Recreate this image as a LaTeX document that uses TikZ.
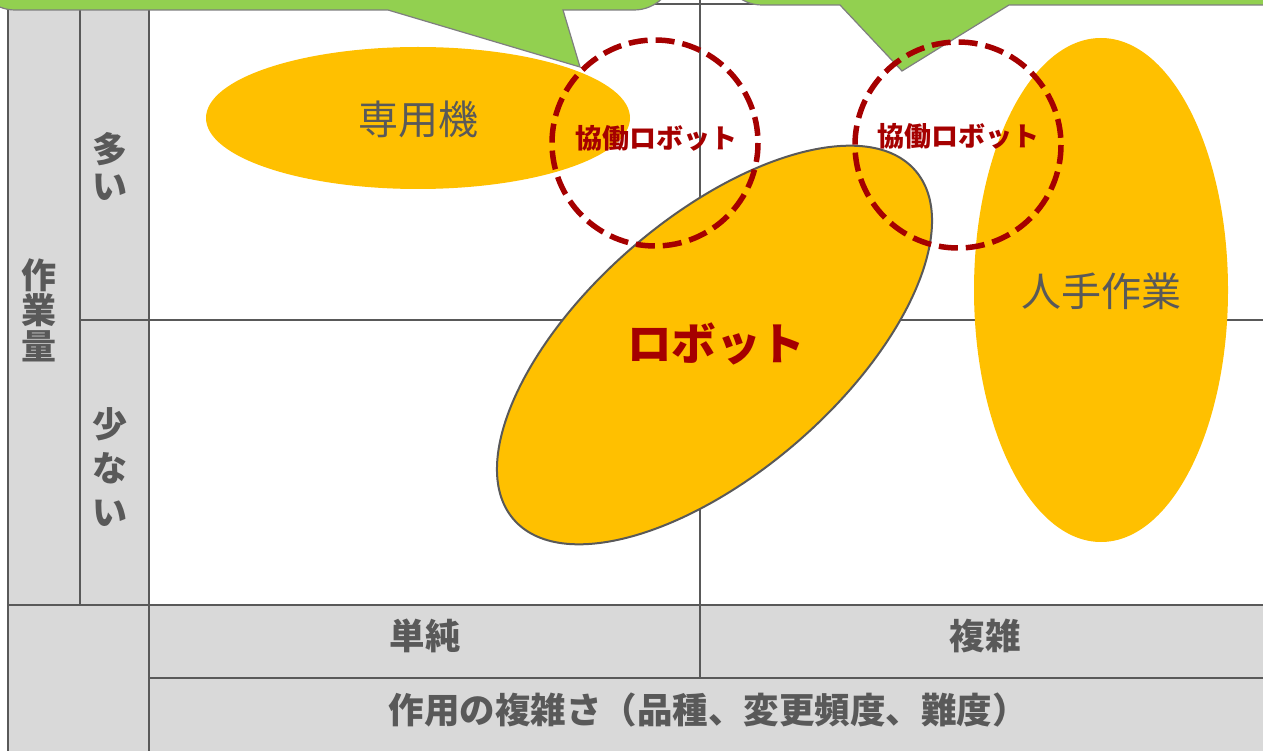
\documentclass[tikz,border=0pt]{standalone}
\usepackage{fontspec}
\newfontfamily\jp{Noto Sans CJK JP}
\definecolor{cellgray}{HTML}{D9D9D9}
\definecolor{linegray}{HTML}{595959}
\definecolor{textgray}{HTML}{595959}
\definecolor{blobyellow}{HTML}{FFC000}
\definecolor{coopred}{HTML}{A50000}
\definecolor{callgreen}{HTML}{92D050}
\definecolor{callborder}{HTML}{7F7F7F}
\begin{document}
\begin{tikzpicture}[x=1pt,y=-1pt,
  gridline/.style={draw=linegray, line width=2pt},
  cellfill/.style={fill=cellgray},
  blob/.style={fill=blobyellow},
  robotblob/.style={fill=blobyellow, draw=linegray, line width=2pt},
  coop/.style={draw=coopred, line width=5.5pt, dash pattern=on 19pt off 8pt},
  callout/.style={fill=callgreen, draw=callborder, line width=1.2pt},
  headlbl/.style={text=textgray, font=\jp\bfseries\fontsize{35.5}{35.5}\selectfont, inner sep=0pt},
  blobtxt/.style={text=textgray, font=\jp\fontsize{40}{40}\selectfont, inner sep=0pt},
  cooptxt/.style={text=coopred, font=\jp\bfseries\fontsize{27}{27}\selectfont, inner sep=0pt},
  robottxt/.style={text=coopred, font=\jp\bfseries\fontsize{44.5}{44.5}\selectfont, inner sep=0pt}]
\useasboundingbox (0,0) rectangle (1263,751);
\begin{scope}
\clip (0,0) rectangle (1263,751);
\fill[white] (0,0) rectangle (1263,751);
% cell fills
\fill[cellfill] (8,0) rectangle (149,751);
\fill[cellfill] (149,605) rectangle (1300,760);
% grid lines
\draw[gridline] (8,4) -- (1300,4);
\draw[gridline] (8,0) -- (8,760);
\draw[gridline] (80,0) -- (80,605);
\draw[gridline] (149,0) -- (149,760);
\draw[gridline] (80,320) -- (1300,320);
\draw[gridline] (8,605) -- (1300,605);
\draw[gridline] (149,678) -- (1300,678);
\draw[gridline] (700,0) -- (700,678);
% blobs
\fill[blob] (418,118) ellipse [x radius=212, y radius=71];
\fill[blob] (1101,290) ellipse [x radius=127, y radius=252];
\draw[robotblob, rotate around={41:(714.5,345)}] (714.5,345) ellipse [x radius=266, y radius=127.5];
% callouts
\draw[callout] (-25,-80) -- (-25,-30) arc[start angle=180, end angle=90, radius=40]
  -- (388,10) -- (580,67) -- (563,10) -- (634,10)
  arc[start angle=90, end angle=0, radius=40] -- (674,-80) -- cycle;
\draw[callout] (722,-80) -- (722,-35) arc[start angle=180, end angle=90, radius=40]
  -- (840,5) -- (902,71) -- (1009,5) -- (1320,5) -- (1320,-80) -- cycle;
% cooperative robot circles
\draw[coop] (655,143) circle [radius=103];
\draw[coop] (958,145) circle [radius=103];
\end{scope}
% texts
\node[blobtxt] (sen) at (418,119) {専用機};
\node[blobtxt] (hito) at (1101,291) {人手作業};
\node[robottxt] (robot) at (716,344) {ロボット};
\node[cooptxt] (coopA) at (656,138) {協働ロボット};
\node[cooptxt] (coopB) at (958,136) {協働ロボット};
\node[headlbl, align=center, font=\jp\bfseries\fontsize{35}{35.5}\selectfont] (sagyo) at (39,310) {作\\業\\量};
\node[headlbl, align=center, font=\jp\bfseries\fontsize{35}{37}\selectfont] (ooi) at (110,166) {多\\い};
\node[headlbl, align=center, font=\jp\bfseries\fontsize{35}{44}\selectfont] (sukunai) at (110,467) {少\\な\\い};
\node[headlbl] (tanjun) at (425,636) {単純};
\node[headlbl] (fuku) at (985,636) {複雑};
\node[headlbl] (axis) at (708,710) {作用の複雑さ（品種、変更頻度、難度）};
\end{tikzpicture}
\end{document}
